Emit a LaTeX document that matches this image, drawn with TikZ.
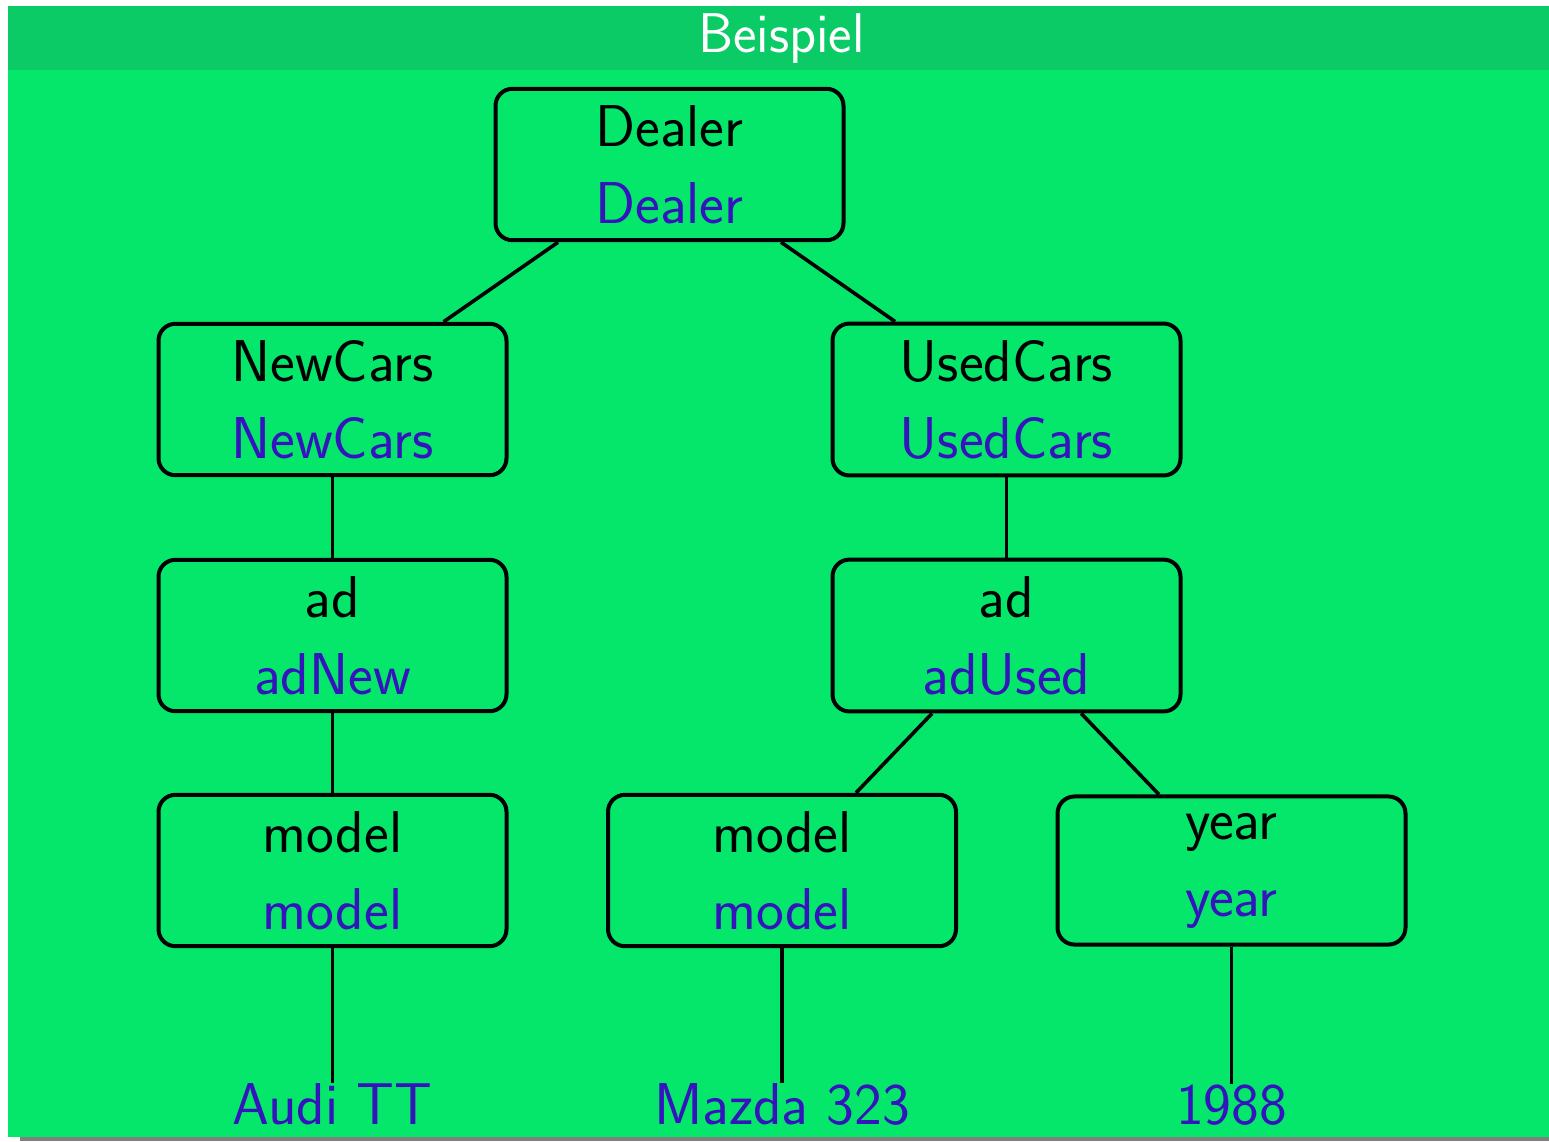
\documentclass[tikz,border=0pt]{standalone}
\usepackage{fontspec}
\definecolor{titlebg}{HTML}{0BCB67}
\definecolor{bodybg}{HTML}{05E76A}
\definecolor{lblue}{HTML}{3514BE}
\definecolor{shadowgray}{HTML}{808080}
\tikzset{
  treebox/.style={draw=black, line width=4pt, rounded corners=17pt,
    minimum width=348pt, inner sep=16.5pt, align=center,
    font=\sffamily\fontsize{59}{77}\selectfont},
  leaf/.style={inner sep=0pt, anchor=base, text=lblue,
    font=\sffamily\fontsize{59}{77}\selectfont},
  edge/.style={draw=black, line width=3.6pt}
}
\newcommand{\tb}[2]{#1\\\textcolor{lblue}{#2}}
\begin{document}
\begin{tikzpicture}[x=1pt,y=-1pt]
\useasboundingbox (0,0) rectangle (1549,1141);
\fill[white] (0,0) rectangle (1549,1141);
\fill[shadowgray] (20,1100) rectangle (1549,1141);
\fill[bodybg] (8,6) rectangle (1549,1137);
\fill[titlebg] (8,6) rectangle (1549,70);
\node[text=white, font=\sffamily\fontsize{56}{60}\selectfont, anchor=base] (title) at (781.5,52) {Beispiel};

\node[treebox] (dealer) at (669.5,164.5) {\tb{Dealer}{Dealer}};
\node[treebox] (newcars) at (332.5,399.5) {\tb{NewCars}{NewCars}};
\node[treebox] (usedcars) at (1006.5,399.5) {\tb{UsedCars}{UsedCars}};
\node[treebox] (adnew) at (332.5,635.5) {\tb{ad}{adNew}};
\node[treebox] (adused) at (1006.5,635.5) {\tb{ad}{adUsed}};
\node[treebox] (model1) at (332.5,870.5) {\tb{model}{model}};
\node[treebox] (model2) at (782,870.5) {\tb{model}{model}};
\node[treebox] (year) at (1231.5,870.5) {\tb{year}{year}};

\node[leaf] (audi) at (332.5,1124) {Audi TT};
\node[leaf] (mazda) at (782,1124) {Mazda 323};
\node[leaf] (y1988) at (1231.5,1124) {1988};

\draw[edge] (dealer) -- (newcars);
\draw[edge] (dealer) -- (usedcars);
\draw[edge] (newcars) -- (adnew);
\draw[edge] (usedcars) -- (adused);
\draw[edge] (adnew) -- (model1);
\draw[edge] (adused) -- (model2);
\draw[edge] (adused) -- (year);
\draw[edge] (model1) -- (audi);
\draw[edge] (model2) -- (mazda);
\draw[edge] (year) -- (y1988);
\end{tikzpicture}
\end{document}
